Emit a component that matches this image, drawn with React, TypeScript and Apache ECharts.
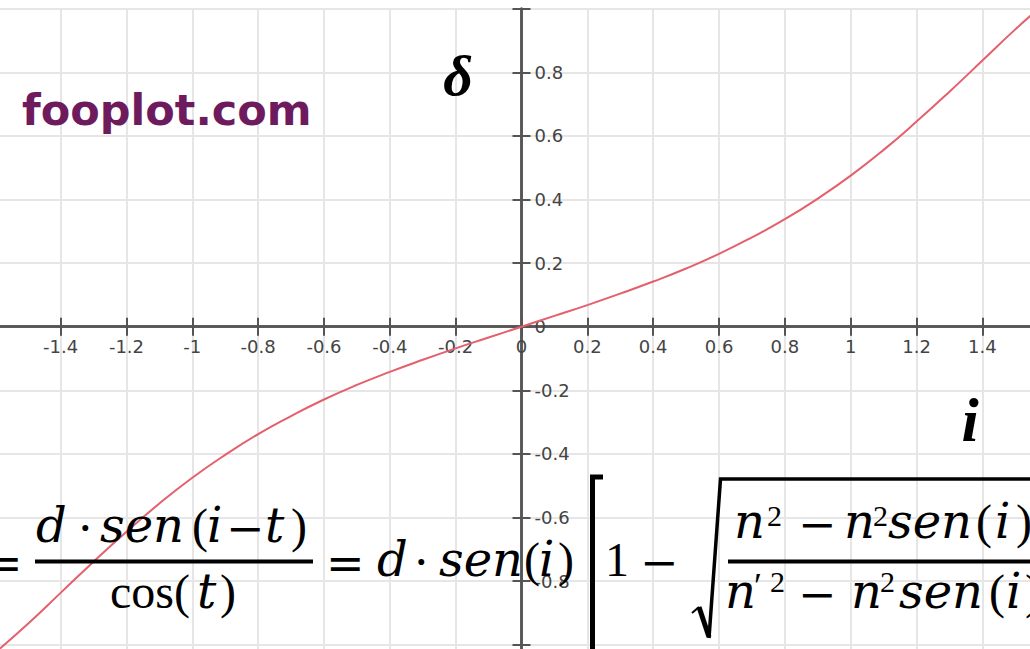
import React, { useEffect, useRef } from "react";
import * as echarts from "echarts";

// Angle of incidence i (rad) and lateral displacement delta of the refracted ray
const incidence = [
  -1.6, -1.5, -1.4, -1.3, -1.2, -1.1, -1.0, -0.9, -0.8, -0.7, -0.6, -0.5, -0.4, -0.3, -0.2, -0.1,
  0, 0.1, 0.2, 0.3, 0.4, 0.5, 0.6, 0.7, 0.8, 0.9, 1.0, 1.1, 1.2, 1.3, 1.4, 1.5, 1.6,
];
const displacement = [
  -1.026, -0.935, -0.837, -0.739, -0.645, -0.556, -0.475, -0.403, -0.338, -0.281, -0.229, -0.183,
  -0.142, -0.104, -0.068, -0.034, 0, 0.034, 0.068, 0.104, 0.142, 0.183, 0.229, 0.281, 0.338, 0.403,
  0.475, 0.556, 0.645, 0.739, 0.837, 0.935, 1.026,
];

// Axis ranges and tick step
const xRange = [-1.6, 1.6];
const yRange = [-1.2, 1.0];
const tickStep = 0.2;
const xLabelLimit = 1.5;
const yLabelLimit = 0.9;

// Page layout of the chart canvas (it is wider than the window and clipped)
const SHIFT_X = 10;
const CANVAS_W = 1070;
const CANVAS_H = 720;
const UNIT_X = 329.2;
const UNIT_Y = 318;
const ORIGIN_X = 521.5;
const ORIGIN_Y = 326.7;

const ITALIC = '"DejaVu Serif"';
const UPRIGHT = '"Liberation Serif"';
const OPER = '"DejaVu Serif"';

type Piece = { t: string; x: number; y: number; size: number; family: string; italic?: boolean; bold?: boolean; color?: string; align?: string };

function textEl(p: Piece) {
  const font = `${p.italic ? "italic " : ""}${p.bold ? "bold " : ""}${p.size}px ${p.family}`;
  return {
    type: "text",
    x: p.x + SHIFT_X,
    y: p.y,
    z: 100,
    style: {
      text: p.t,
      font,
      fill: p.color || "#000",
      textAlign: p.align || "left",
      align: p.align || "left",
      textVerticalAlign: "middle",
      verticalAlign: "middle",
    },
  };
}

function fmt(v: number) {
  return String(Math.round(v * 10) / 10);
}

export default function App() {
  const ref = useRef<HTMLDivElement>(null);

  useEffect(() => {
    if (!ref.current) return;
    const chart = echarts.init(ref.current, undefined, { renderer: "svg" });

    const axisLine = { show: true, onZero: false, lineStyle: { color: "#555", width: 2.5 } };
    const tickStyle = { color: "#555", width: 2 };
    const gridLine = { show: true, lineStyle: { color: "#e6e6e6", width: 2 } };
    const labelFont = { fontFamily: "DejaVu Sans", fontSize: 18, color: "#444" };

    // axes cross at the value 0 of the other axis
    const xAxisOffset = yRange[0] * UNIT_Y;
    const yAxisOffset = xRange[0] * UNIT_X;

    const F = 48; // formula size (italic)
    const U = 48; // formula size (upright)
    const S = 30; // superscripts

    const pieces: Piece[] = [
      // brand and axis names
      { t: "fooplot.com", x: 22, y: 110, size: 43, family: '"DejaVu Sans"', bold: true, color: "#6e1b5e" },
      { t: "δ", x: 458, y: 75, size: 58, family: UPRIGHT, italic: true, bold: true, align: "center" },
      { t: "i", x: 970, y: 420, size: 62, family: UPRIGHT, italic: true, bold: true, align: "center" },

      // leading "="
      { t: "=", x: -16, y: 563, size: 46, family: OPER },
      // numerator: d · sen(i − t)
      { t: "d", x: 36, y: 525, size: F, family: ITALIC, italic: true },
      { t: "·", x: 78, y: 528, size: 46, family: OPER },
      { t: "sen", x: 100, y: 525, size: F, family: ITALIC, italic: true },
      { t: "(", x: 192, y: 525, size: U, family: UPRIGHT },
      { t: "i", x: 207, y: 525, size: F, family: ITALIC, italic: true },
      { t: "−", x: 226, y: 528, size: 46, family: OPER },
      { t: "t", x: 265, y: 525, size: F, family: ITALIC, italic: true },
      { t: ")", x: 291, y: 525, size: U, family: UPRIGHT },
      // denominator: cos(t)
      { t: "cos(", x: 110, y: 591, size: U, family: UPRIGHT },
      { t: "t", x: 197, y: 591, size: F, family: ITALIC, italic: true },
      { t: ")", x: 220, y: 591, size: U, family: UPRIGHT },
      // = d · sen(i)
      { t: "=", x: 326, y: 563, size: 46, family: OPER },
      { t: "d", x: 377, y: 559, size: F, family: ITALIC, italic: true },
      { t: "·", x: 414, y: 562, size: 46, family: OPER },
      { t: "sen", x: 439, y: 559, size: F, family: ITALIC, italic: true },
      { t: "(", x: 524, y: 559, size: U, family: UPRIGHT },
      { t: "i", x: 539, y: 559, size: F, family: ITALIC, italic: true },
      { t: ")", x: 558, y: 559, size: U, family: UPRIGHT },
      // 1 −
      { t: "1", x: 605, y: 559, size: U, family: UPRIGHT },
      { t: "−", x: 640, y: 562, size: 46, family: OPER },
      // radicand numerator: n² − n²sen(i)
      { t: "n", x: 734, y: 521, size: F, family: ITALIC, italic: true },
      { t: "2", x: 767, y: 515, size: S, family: UPRIGHT },
      { t: "−", x: 798, y: 524, size: 46, family: OPER },
      { t: "n", x: 844, y: 521, size: F, family: ITALIC, italic: true },
      { t: "2", x: 873, y: 515, size: S, family: UPRIGHT },
      { t: "sen", x: 888, y: 521, size: F, family: ITALIC, italic: true },
      { t: "(", x: 976, y: 521, size: U, family: UPRIGHT },
      { t: "i", x: 995, y: 521, size: F, family: ITALIC, italic: true },
      { t: ")", x: 1016, y: 521, size: U, family: UPRIGHT },
      // radicand denominator: n′² − n²sen(i)
      { t: "n", x: 725, y: 591, size: F, family: ITALIC, italic: true },
      { t: "′", x: 754, y: 586, size: 36, family: UPRIGHT },
      { t: "2", x: 770, y: 581, size: S, family: UPRIGHT },
      { t: "−", x: 798, y: 594, size: 46, family: OPER },
      { t: "n", x: 851, y: 591, size: F, family: ITALIC, italic: true },
      { t: "2", x: 880, y: 581, size: S, family: UPRIGHT },
      { t: "sen", x: 899, y: 591, size: F, family: ITALIC, italic: true },
      { t: "(", x: 989, y: 591, size: U, family: UPRIGHT },
      { t: "i", x: 1006, y: 591, size: F, family: ITALIC, italic: true },
      { t: ")", x: 1025, y: 591, size: U, family: UPRIGHT },
    ];

    const sx = (x: number) => x + SHIFT_X;
    const strokes: any[] = [
      // fraction bars
      { type: "rect", z: 100, shape: { x: sx(35), y: 559.5, width: 278, height: 4 }, style: { fill: "#000" } },
      { type: "rect", z: 100, shape: { x: sx(728), y: 559.5, width: 320, height: 4 }, style: { fill: "#000" } },
      // opening bracket
      { type: "polyline", z: 100, shape: { points: [[sx(603), 477], [sx(592.5), 477], [sx(592.5), 680]] }, style: { stroke: "#000", lineWidth: 5, fill: null } },
      // radical sign
      { type: "polyline", z: 100, shape: { points: [[sx(692), 613], [sx(699), 607]] }, style: { stroke: "#000", lineWidth: 2, fill: null } },
      { type: "polyline", z: 100, shape: { points: [[sx(699), 607], [sx(709), 637]] }, style: { stroke: "#000", lineWidth: 5, fill: null } },
      { type: "polyline", z: 100, shape: { points: [[sx(709), 638], [sx(720.5), 479], [sx(1050), 479]] }, style: { stroke: "#000", lineWidth: 3.5, fill: null, lineJoin: "miter" } },
    ];

    const gridLeft = ORIGIN_X + SHIFT_X + xRange[0] * UNIT_X;
    const gridTop = ORIGIN_Y - yRange[1] * UNIT_Y;

    const xBase = { type: "value", min: xRange[0], max: xRange[1], interval: tickStep, position: "bottom", offset: xAxisOffset, axisLine };
    const yBase = { type: "value", min: yRange[0], max: yRange[1], interval: tickStep, position: "left", offset: yAxisOffset, axisLine };

    chart.setOption({
      animation: false,
      backgroundColor: "#fff",
      grid: {
        left: gridLeft,
        top: gridTop,
        width: (xRange[1] - xRange[0]) * UNIT_X,
        height: (yRange[1] - yRange[0]) * UNIT_Y,
        containLabel: false,
        outerBoundsMode: "none",
      },
      xAxis: [
        {
          ...xBase,
          axisTick: { show: true, inside: false, length: 9, lineStyle: tickStyle },
          axisLabel: {
            show: true,
            margin: 11,
            ...labelFont,
            formatter: (v: number) => (Math.abs(v) > xLabelLimit ? "" : fmt(v)),
          },
          splitLine: gridLine,
        },
        {
          ...xBase,
          axisTick: { show: true, inside: true, length: 9, lineStyle: tickStyle },
          axisLabel: { show: false },
          splitLine: { show: false },
        },
      ],
      yAxis: [
        {
          ...yBase,
          axisTick: { show: true, inside: false, length: 9, lineStyle: tickStyle },
          axisLabel: {
            show: true,
            inside: true,
            margin: 13,
            ...labelFont,
            formatter: (v: number) => (Math.abs(v) > yLabelLimit ? "" : fmt(v)),
          },
          splitLine: gridLine,
        },
        {
          ...yBase,
          axisTick: { show: true, inside: true, length: 9, lineStyle: tickStyle },
          axisLabel: { show: false },
          splitLine: { show: false },
        },
      ],
      series: [
        {
          type: "line",
          xAxisIndex: 0,
          yAxisIndex: 0,
          data: incidence.map((x, k) => [x, displacement[k]]),
          smooth: true,
          showSymbol: false,
          symbol: "none",
          lineStyle: { color: "#e3606c", width: 2 },
          z: 5,
        },
      ],
      graphic: [...strokes, ...pieces.map(textEl)],
    });

    return () => chart.dispose();
  }, []);

  return (
    <div style={{ position: "fixed", left: 0, top: 0, width: 1030, height: 649, overflow: "hidden", background: "#fff" }}>
      <div ref={ref} style={{ position: "absolute", left: -SHIFT_X, top: 0, width: CANVAS_W, height: CANVAS_H }} />
    </div>
  );
}
